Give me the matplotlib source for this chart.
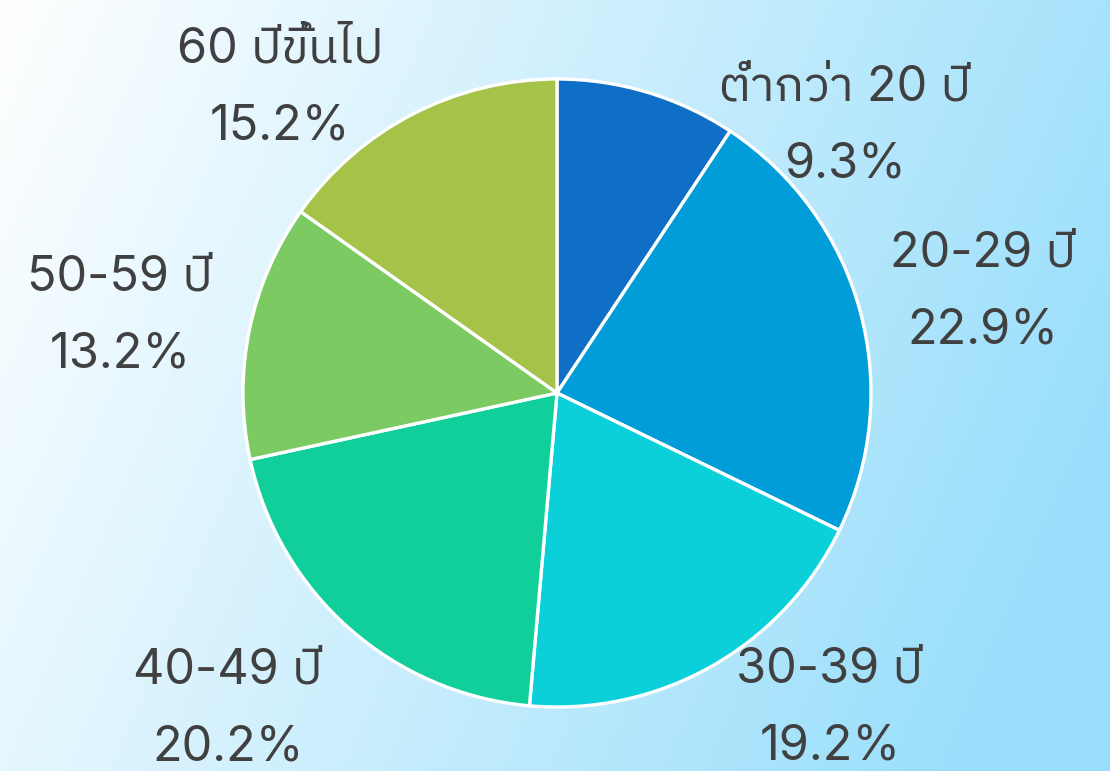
import numpy as np
import matplotlib
matplotlib.use('Agg')
import matplotlib.pyplot as plt
from matplotlib import font_manager as fm
from matplotlib.ft2font import FT2Font

### data
labels = ['ต่ำกว่า 20 ปี', '20-29 ปี', '30-39 ปี', '40-49 ปี', '50-59 ปี', '60 ปีขึ้นไป']
shares = [9.3, 22.9, 19.2, 20.2, 13.2, 15.2]
colors = ['#0F6FC6', '#009DD9', '#0BD0D9', '#10CF9B', '#7CCA62', '#A5C249']

### label anchors (in pie radius units)
label_pos = [(0.917, 0.850), (1.357, 0.322), (0.869, -1.003),
             (-1.048, -1.006), (-1.392, 0.245), (-0.882, 0.971)]
line_gap = 0.245

### find a font that has Thai glyphs
thai_family = None
for f in fm.fontManager.ttflist:
    try:
        cmap = FT2Font(f.fname).get_charmap()
    except Exception:
        continue
    if ord('ป') in cmap and ord('0') in cmap:
        thai_family = f.name
        if 'Thai' in f.name:
            break
families = ['Inter', thai_family, 'DejaVu Sans'] if thai_family else ['Inter', 'DejaVu Sans']

fig = plt.figure(figsize=(11.1, 7.71), dpi=100)

### background gradient
bg = fig.add_axes([0, 0, 1, 1], zorder=0)
xx, yy = np.meshgrid(np.linspace(0, 1, 300), np.linspace(0, 1, 200))
t = np.clip(0.85 * xx + 0.25 * yy, 0, 1)
c0 = np.array([255, 255, 255]) / 255.0
c1 = np.array([152, 222, 251]) / 255.0
img = c0[None, None, :] * (1 - t[..., None]) + c1[None, None, :] * t[..., None]
bg.imshow(img, aspect='auto', extent=[0, 1, 0, 1])
bg.axis('off')

ax = fig.add_axes([0, 0, 1, 1], zorder=1)
ax.patch.set_alpha(0)
ax.pie(shares, colors=colors, startangle=90, counterclock=False,
       wedgeprops=dict(edgecolor='white', linewidth=2.4))

### two-line labels: category on top, share below
for lab, val, (x, y) in zip(labels, shares, label_pos):
    ax.text(x, y + line_gap / 2, lab, ha='center', va='center',
            fontsize=35, color='#404040', family=families)
    ax.text(x, y - line_gap / 2, '%.1f%%' % val, ha='center', va='center',
            fontsize=35, color='#404040', family=families)

ax.set_xlim(-557 / 314, (1110 - 557) / 314)
ax.set_ylim(-(771 - 393) / 314, 393 / 314)
ax.axis('off')

plt.savefig('out.png', dpi=100)
